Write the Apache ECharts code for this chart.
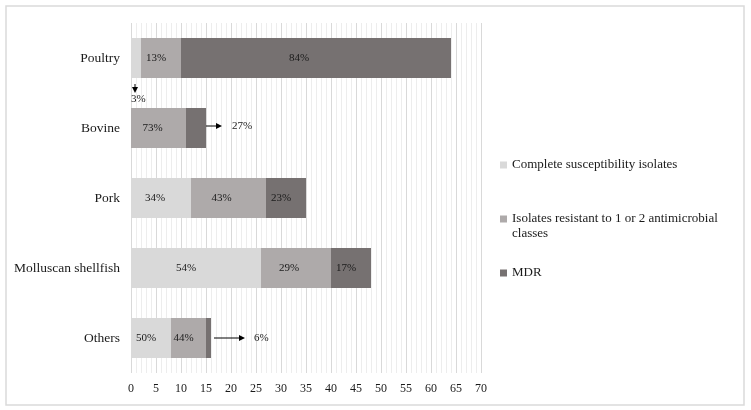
<!DOCTYPE html>
<html>
<head>
<meta charset="utf-8">
<script src="https://cdn.jsdelivr.net/npm/echarts@6/dist/echarts.min.js"></script>
<style>html,body{margin:0;padding:0;background:#fff;}#c{width:751px;height:410px;}</style>
</head>
<body>
<div id="c"></div>
<script>
var categories = ['Poultry', 'Bovine', 'Pork', 'Molluscan shellfish', 'Others'];
var seriesNames = ['Complete susceptibility isolates', 'Isolates resistant to 1 or 2 antimicrobial classes', 'MDR'];
var susceptible = [2, 0, 12, 26, 8];
var resistant12 = [8, 11, 15, 14, 7];
var mdr = [54, 4, 8, 8, 1];
var xTicks = [0, 70, 5];
var colors = ['#d9d9d9', '#aeaaaa', '#767171'];
var FONT = '"Liberation Serif", "Times New Roman", serif';

var seriesData = [susceptible, resistant12, mdr];
var totals = categories.map(function (c, i) { return susceptible[i] + resistant12[i] + mdr[i]; });
function pct(v, i) { return Math.round(v / totals[i] * 100) + '%'; }

// small segments annotated outside with arrows: [seriesIndex, categoryIndex]
var outside = [[0, 0], [2, 1], [2, 4]];
function isOutside(s, i) { return outside.some(function (o) { return o[0] === s && o[1] === i; }); }

var chart = echarts.init(document.getElementById('c'), null, {renderer: 'canvas'});

var series = seriesData.map(function (arr, s) {
  return {
    name: seriesNames[s],
    type: 'bar',
    stack: 'total',
    barWidth: 40,
    itemStyle: {color: colors[s]},
    emphasis: {disabled: true},
    data: arr.map(function (v, i) {
      return {
        value: v,
        label: {
          show: v !== 0 && !isOutside(s, i),
          position: 'inside',
          offset: [-Math.round(3 + 0.25 * v), 0],
          fontFamily: FONT,
          fontSize: 11,
          color: '#1a1a1a',
          formatter: pct(v, i)
        }
      };
    })
  };
});

function legendFor(idx, top, text) {
  var l = {
    show: true,
    orient: 'vertical',
    left: 500,
    top: top,
    padding: 0,
    itemWidth: 7,
    itemHeight: 7,
    itemGap: 0,
    icon: 'rect',
    selectedMode: false,
    data: [seriesNames[idx]],
    textStyle: {fontFamily: FONT, fontSize: 13, color: '#1a1a1a', lineHeight: 15}
  };
  if (text) l.formatter = function () { return text; };
  return l;
}

chart.setOption({
  animation: false,
  backgroundColor: '#fff',
  grid: {left: 131, top: 23, width: 350, height: 350, containLabel: false},
  legend: [
    legendFor(0, 157.5),
    legendFor(1, 211.5, 'Isolates resistant to 1 or 2 antimicrobial'),
    legendFor(2, 265.5)
  ],
  xAxis: {
    type: 'value',
    min: xTicks[0],
    max: xTicks[1],
    interval: xTicks[2],
    axisLine: {show: false},
    axisTick: {show: false},
    axisLabel: {fontFamily: FONT, fontSize: 12, color: '#1a1a1a', margin: 10},
    splitLine: {show: true, lineStyle: {color: '#d9d9d9', width: 1}},
    minorTick: {show: false, splitNumber: 5},
    minorSplitLine: {show: true, lineStyle: {color: '#ededed', width: 1}}
  },
  yAxis: {
    type: 'category',
    inverse: true,
    data: categories,
    axisLine: {show: false},
    axisTick: {show: false},
    axisLabel: {fontFamily: FONT, fontSize: 13.5, color: '#1a1a1a', margin: 11}
  },
  series: series
});

// annotation arrows, computed from the chart's own scales
function px(x, cat) { return chart.convertToPixel({gridIndex: 0}, [x, cat]); }
var half = 20;
var g = [{
  type: 'rect', silent: true,
  shape: {x: 6, y: 6, width: 738, height: 399},
  style: {fill: null, stroke: '#dadada', lineWidth: 1.5}
}, {
  type: 'text', silent: true, x: 512, y: 234,
  style: {text: 'classes', font: '13px ' + FONT, fill: '#1a1a1a', verticalAlign: 'middle'}
}];
function arrow(x1, y1, x2, y2) {
  var dx = x2 - x1, dy = y2 - y1, len = Math.sqrt(dx * dx + dy * dy);
  var ux = dx / len, uy = dy / len, hl = 6, hw = 3;
  var bx = x2 - ux * hl, by = y2 - uy * hl;
  g.push({type: 'line', silent: true, shape: {x1: x1, y1: y1, x2: bx, y2: by}, style: {stroke: '#000', lineWidth: 1}});
  g.push({type: 'polygon', silent: true, shape: {points: [[x2, y2], [bx - uy * hw, by + ux * hw], [bx + uy * hw, by - ux * hw]]}, style: {fill: '#000'}});
}
function note(x, y, t, align) {
  g.push({type: 'text', silent: true, x: x, y: y, style: {text: t, font: '11px ' + FONT, fill: '#1a1a1a', align: align || 'left', verticalAlign: 'middle'}});
}
// Poultry complete susceptibility (vertical arrow below bar)
var p0 = px(susceptible[0] * 0.4, 0);
arrow(p0[0], p0[1] + half + 6, p0[0], p0[1] + half + 15);
var p0t = px(0, 0);
note(p0t[0], p0[1] + half + 21, pct(susceptible[0], 0));
// Bovine MDR
var b1 = px(totals[1] - mdr[1] + 1, 1), b2 = px(totals[1] + 3.2, 1), b3 = px(totals[1] + 5.2, 1);
arrow(b1[0], b1[1] - 2, b2[0], b2[1] - 2);
note(b3[0], b3[1] - 2, pct(mdr[1], 1));
// Others MDR
var o1 = px(totals[4] + 0.6, 4), o2 = px(totals[4] + 6.8, 4), o3 = px(totals[4] + 8.6, 4);
arrow(o1[0], o1[1], o2[0], o2[1]);
note(o3[0], o3[1], pct(mdr[4], 4));

chart.setOption({graphic: g});
</script>
</body>
</html>
